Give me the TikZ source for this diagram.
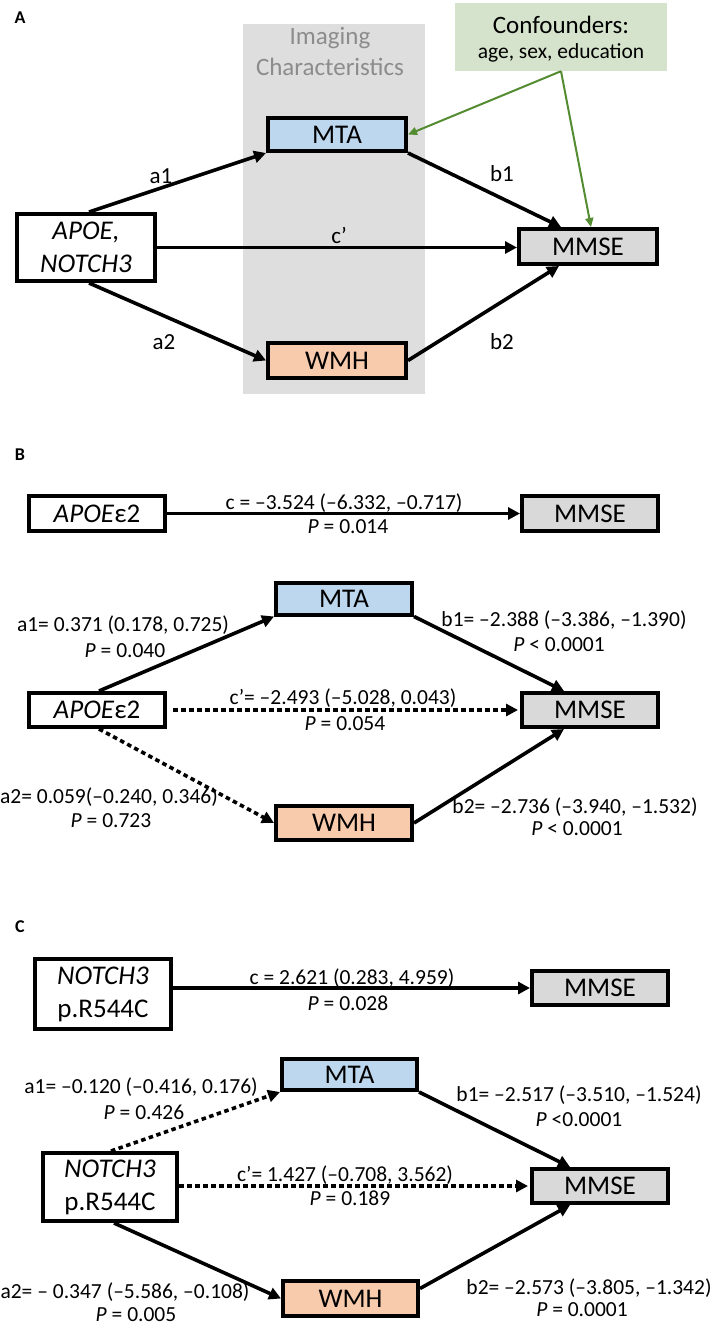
\documentclass[tikz,border=0pt]{standalone}
\usepackage{fontspec}
\setmainfont{Carlito}
\usetikzlibrary{arrows.meta,calc}
\definecolor{mtablue}{RGB}{189,215,238}
\definecolor{wmhor}{RGB}{248,203,173}
\definecolor{mmsegr}{RGB}{217,217,217}
\definecolor{confgr}{RGB}{214,227,204}
\definecolor{imggr}{RGB}{222,222,222}
\definecolor{imgtx}{RGB}{140,140,140}
\definecolor{confarr}{RGB}{84,140,50}
\tikzset{
 box/.style={draw, line width=4pt, inner sep=0pt, align=center, font=\fontsize{27}{33}\selectfont},
 arr/.style={line width=3.6pt, -{Triangle[length=12pt,width=12pt]}},
 dotarr/.style={arr, dash pattern=on 4.5pt off 3.5pt},
 lab/.style={inner sep=0pt, font=\fontsize{21.5}{24}\selectfont},
 labA/.style={inner sep=0pt, font=\fontsize{23}{26}\selectfont},
 panel/.style={inner sep=0pt, font=\fontsize{18}{20}\selectfont\bfseries},
 garr/.style={draw=confarr, line width=2pt, -{Triangle[length=9pt,width=8pt]}},
 imgtext/.style={inner sep=0pt, text=imgtx, font=\fontsize{25}{28}\selectfont},
}
\begin{document}
\begin{tikzpicture}[x=1pt,y=-1pt]
\useasboundingbox (0,0) rectangle (709,1327);
\fill[white] (0,0) rectangle (709,1327);

% ---------------- Panel A ----------------
\node[panel] (pA) at (20,18) {A};
\node[fill=imggr, minimum width=182pt, minimum height=370pt, inner sep=0pt] (imgbg) at (334,209) {};
\node[imgtext] (imgt1) at (330,38) {Imaging};
\node[imgtext] (imgt2) at (330,67) {Characteristics};
\node[fill=confgr, minimum width=212pt, minimum height=68pt, inner sep=0pt] (conf) at (561,37) {};
\node[inner sep=0pt, font=\fontsize{25}{28}\selectfont] (conft1) at (561,25) {Confounders:};
\node[inner sep=0pt, font=\fontsize{21.5}{24}\selectfont] (conft2) at (561,53) {age, sex, education};

\node[box, fill=white, minimum width=138pt, minimum height=67pt] (apoeA) at (86,247.5) {\textit{APOE,}\\\textit{NOTCH3}};
\node[box, fill=mtablue, minimum width=138pt, minimum height=33pt] (mtaA) at (337,134.5) {MTA};
\node[box, fill=wmhor, minimum width=138pt, minimum height=35pt] (wmhA) at (337,360.5) {WMH};
\node[box, fill=mmsegr, minimum width=138pt, minimum height=35pt] (mmseA) at (588,246.5) {MMSE};

\draw[arr] ([xshift=3pt]apoeA.north) -- (mtaA.south west);
\draw[arr] (mtaA.south east) -- ([xshift=-27pt]mmseA.north);
\draw[arr] (apoeA.east) -- (apoeA.east -| mmseA.west);
\draw[arr] ([xshift=3pt]apoeA.south) -- (wmhA.west);
\draw[arr] (wmhA.east) -- ([xshift=-29pt]mmseA.south);
\draw[garr] (conf.south) -- (mtaA.east);
\draw[garr] (conf.south) -- ([xshift=3pt]mmseA.north);

\node[labA] (la1) at (161,176) {a1};
\node[labA] (lb1) at (502,174) {b1};
\node[labA] (lc) at (339,235) {c'};
\node[labA] (la2) at (164,342) {a2};
\node[labA] (lb2) at (502,342) {b2};

% ---------------- Panel B ----------------
\node[panel] (pB) at (20,455) {B};
\node[box, fill=white, minimum width=136pt, minimum height=35pt] (apoeB1) at (97,513.5) {\textit{APOE}ε2};
\node[box, fill=mmsegr, minimum width=136pt, minimum height=35pt] (mmseB1) at (590,513.5) {MMSE};
\draw[arr] (apoeB1.east) -- (mmseB1.west);
\node[lab] (Bc) at (344,503) {c = –3.524 (–6.332, –0.717)};
\node[lab] (Bcp) at (348,527) {\textit{P} = 0.014};

\node[box, fill=mtablue, minimum width=136pt, minimum height=32pt] (mtaB) at (344,598.5) {MTA};
\node[box, fill=white, minimum width=136pt, minimum height=34pt] (apoeB2) at (97,710) {\textit{APOE}ε2};
\node[box, fill=mmsegr, minimum width=136pt, minimum height=34pt] (mmseB2) at (590,710) {MMSE};
\node[box, fill=wmhor, minimum width=136pt, minimum height=34pt] (wmhB) at (344,823) {WMH};

\draw[arr] ([xshift=2pt]apoeB2.north) -- (mtaB.south west);
\draw[arr] (mtaB.south east) -- ([xshift=-26pt]mmseB2.north);
\draw[dotarr] ([xshift=6pt]apoeB2.east) -- ([xshift=-2pt]mmseB2.west);
\draw[dotarr] ([xshift=2pt]apoeB2.south) -- (wmhB.west);
\draw[arr] (wmhB.east) -- ([xshift=-26pt]mmseB2.south);

\node[lab] (Ba1) at (123,625) {a1= 0.371 (0.178, 0.725)};
\node[lab] (Ba1p) at (125,651) {\textit{P} = 0.040};
\node[lab] (Bb1) at (564,620) {b1= –2.388 (–3.386, –1.390)};
\node[lab] (Bb1p) at (559,645) {\textit{P} < 0.0001};
\node[lab] (Bcc) at (343,698) {c'= –2.493 (–5.028, 0.043)};
\node[lab] (Bccp) at (345,724) {\textit{P} = 0.054};
\node[lab] (Ba2) at (109,797) {a2= 0.059(–0.240, 0.346)};
\node[lab] (Ba2p) at (111,821) {\textit{P} = 0.723};
\node[lab] (Bb2) at (575,807) {b2= –2.736 (–3.940, –1.532)};
\node[lab] (Bb2p) at (577,829) {\textit{P} < 0.0001};

% ---------------- Panel C ----------------
\node[panel] (pC) at (20,927) {C};
\node[box, fill=white, minimum width=136pt, minimum height=70pt] (notchC1) at (103,994) {\textit{NOTCH3}\\p.R544C};
\node[box, fill=mmsegr, minimum width=136pt, minimum height=34pt] (mmseC1) at (600,988) {MMSE};
\draw[arr] (notchC1.east |- mmseC1.west) -- (mmseC1.west);
\node[lab] (Cc) at (352,978) {c = 2.621 (0.283, 4.959)};
\node[lab] (Ccp) at (348,1003) {\textit{P} = 0.028};

\node[box, fill=mtablue, minimum width=135pt, minimum height=31pt] (mtaC) at (349.5,1074.5) {MTA};
\node[box, fill=white, minimum width=134pt, minimum height=68pt] (notchC2) at (110,1187) {\textit{NOTCH3}\\p.R544C};
\node[box, fill=mmsegr, minimum width=136pt, minimum height=34pt] (mmseC2) at (600,1186) {MMSE};
\node[box, fill=wmhor, minimum width=135pt, minimum height=35pt] (wmhC) at (350.5,1298.5) {WMH};

\draw[dotarr] ([xshift=1pt]notchC2.north) -- (mtaC.south west);
\draw[arr] (mtaC.south east) -- ([xshift=-30pt]mmseC2.north);
\draw[dotarr] (notchC2.east |- mmseC2.west) -- ([xshift=-2pt]mmseC2.west);
\draw[arr] ([xshift=4pt]notchC2.south) -- (wmhC.west);
\draw[arr] ($(wmhC.east)+(0,-10)$) -- ([xshift=-30pt]mmseC2.south);

\node[lab] (Ca1) at (141,1087) {a1= –0.120 (–0.416, 0.176)};
\node[lab] (Ca1p) at (144,1112) {\textit{P} = 0.426};
\node[lab] (Cb1) at (579,1095) {b1= –2.517 (–3.510, –1.524)};
\node[lab] (Cb1p) at (579,1120) {\textit{P} <0.0001};
\node[lab] (Ccc) at (345,1175) {c'= 1.427 (–0.708, 3.562)};
\node[lab] (Cccp) at (350,1198) {\textit{P} = 0.189};
\node[lab] (Ca2) at (125,1292) {a2= – 0.347 (–5.586, –0.108)};
\node[lab] (Ca2p) at (136,1315) {\textit{P} = 0.005};
\node[lab] (Cb2) at (589,1288) {b2= –2.573 (–3.805, –1.342)};
\node[lab] (Cb2p) at (582,1310) {\textit{P} = 0.0001};
\end{tikzpicture}
\end{document}
